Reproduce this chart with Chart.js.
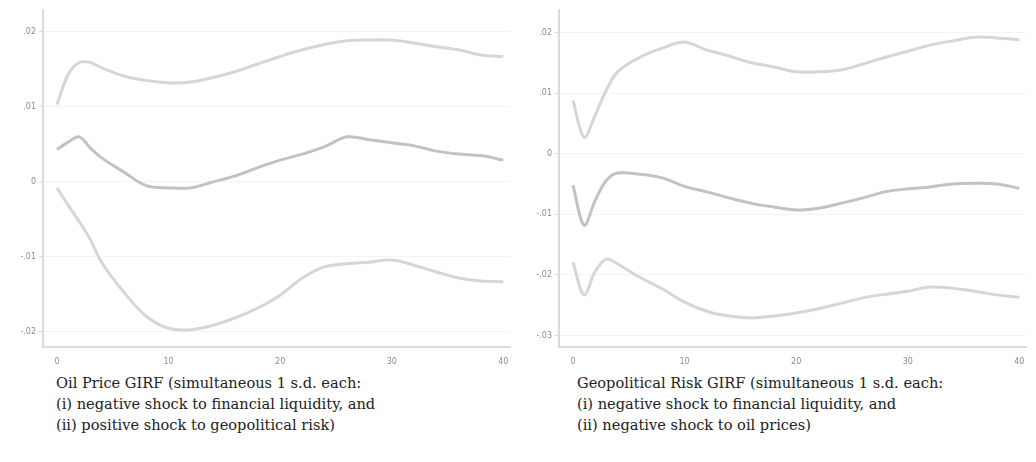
<!DOCTYPE html>
<html>
<head>
<meta charset="utf-8">
<script src="https://cdn.jsdelivr.net/npm/chart.js@4.4.1/dist/chart.umd.min.js"></script>
<style>
  html, body { margin: 0; padding: 0; background: #fff; }
  body { width: 1036px; height: 462px; position: relative; overflow: hidden; }
  .panel { position: absolute; top: 0; }
  .caption {
    position: absolute; top: 372px;
    font-family: "DejaVu Serif", serif; font-size: 14.6px; line-height: 21px; color: #222;
  }
</style>
</head>
<body>
<div class="panel" style="left:0"><canvas id="chart-oil" width="516" height="365"></canvas></div>
<div class="panel" style="left:516px"><canvas id="chart-gpr" width="520" height="365"></canvas></div>
<div class="caption" style="left:56px">Oil Price GIRF (simultaneous 1 s.d. each:<br>(i) negative shock to financial liquidity, and<br>(ii) positive shock to geopolitical risk)</div>
<div class="caption" style="left:577px">Geopolitical Risk GIRF (simultaneous 1 s.d. each:<br>(i) negative shock to financial liquidity, and<br>(ii) negative shock to oil prices)</div>
<script>
(function () {
  "use strict";

  // ── Data ───────────────────────────────────────

  var horizons = [0, 1, 2, 3, 4, 6, 8, 10, 12, 14, 16, 18, 20, 22, 24, 26, 28, 30, 32, 34, 36, 38, 40];
  var xTicks = [0, 10, 20, 30, 40];

  var oilUpper = [0.0103, 0.0143, 0.0159, 0.0159, 0.0152, 0.0141, 0.0135, 0.0132, 0.0133, 0.0139, 0.0147, 0.0157,
    0.0167, 0.0176, 0.0183, 0.0188, 0.0189, 0.0189, 0.0185, 0.0180, 0.0176, 0.0169, 0.0167];
  var oilMedian = [0.0043, 0.0053, 0.0060, 0.0045, 0.0032, 0.0013, -0.0005, -0.0008, -0.0008, 0.0000, 0.0008, 0.0019,
    0.0029, 0.0037, 0.0047, 0.0060, 0.0056, 0.0052, 0.0048, 0.0041, 0.0037, 0.0035, 0.0029];
  var oilLower = [-0.0008, -0.0031, -0.0053, -0.0077, -0.0107, -0.0147, -0.0179, -0.0195, -0.0197, -0.0191, -0.0181, -0.0168,
    -0.0151, -0.0128, -0.0113, -0.0109, -0.0107, -0.0104, -0.0111, -0.0120, -0.0128, -0.0132, -0.0133];
  var oilYTicks = [-0.02, -0.01, 0, 0.01, 0.02];

  var gprUpper = [0.0088, 0.0027, 0.0064, 0.0105, 0.0135, 0.0159, 0.0174, 0.0184, 0.0171, 0.0161, 0.0150, 0.0143,
    0.0135, 0.0135, 0.0138, 0.0148, 0.0159, 0.0169, 0.0179, 0.0186, 0.0192, 0.0191, 0.0188];
  var gprMedian = [-0.0052, -0.0118, -0.0077, -0.0044, -0.0032, -0.0034, -0.0040, -0.0054, -0.0063, -0.0073, -0.0082, -0.0088,
    -0.0093, -0.0090, -0.0082, -0.0073, -0.0063, -0.0058, -0.0055, -0.0050, -0.0049, -0.0050, -0.0057];
  var gprLower = [-0.0179, -0.0233, -0.0194, -0.0174, -0.0182, -0.0204, -0.0223, -0.0245, -0.0260, -0.0268, -0.0271, -0.0268,
    -0.0263, -0.0256, -0.0247, -0.0238, -0.0232, -0.0227, -0.0220, -0.0222, -0.0227, -0.0233, -0.0237];
  var gprYTicks = [-0.03, -0.02, -0.01, 0, 0.01, 0.02];

  // ── Helpers ────────────────────────────────────

  function fmt(v) {
    if (Math.abs(v) < 1e-9) return "0";
    var s = Math.abs(v).toFixed(2).replace(/^0/, "");
    return (v < 0 ? "-" : "") + s;
  }

  function pts(ys) {
    return horizons.map(function (h, i) { return { x: h, y: ys[i] }; });
  }

  function line(ys, color, width) {
    return { data: pts(ys), borderColor: color, borderWidth: width, pointRadius: 0, tension: 0.35, fill: false };
  }

  function makeChart(id, upper, median, lower, yTicks, yMin, yMax, padRight) {
    return new Chart(document.getElementById(id), {
      type: "line",
      data: {
        datasets: [
          line(upper, "#d6d6d6", 3),
          line(median, "#c2c2c2", 3),
          line(lower, "#d6d6d6", 3)
        ]
      },
      options: {
        responsive: false, animation: false,
        layout: { padding: { top: 10, right: padRight, left: 0, bottom: 0 } },
        plugins: { legend: { display: false }, tooltip: { enabled: false } },
        scales: {
          x: {
            type: "linear", min: -1.25, max: 40.6,
            afterBuildTicks: function (ax) { ax.ticks = xTicks.map(function (v) { return { value: v }; }); },
            afterFit: function (ax) { ax.height = 18; },
            border: { color: "#dadada", width: 2 },
            grid: { display: false, drawTicks: true },
            ticks: { color: "#8c8c8c", font: { family: "DejaVu Sans", size: 8 }, padding: 2, maxRotation: 0 }
          },
          y: {
            min: yMin, max: yMax,
            afterBuildTicks: function (ax) { ax.ticks = yTicks.map(function (v) { return { value: v }; }); },
            afterFit: function (ax) { ax.width = 43; },
            border: { color: "#dadada", width: 2 },
            grid: { color: "#f4f4f4", tickColor: "#dadada", tickLength: 4 },
            ticks: { color: "#8c8c8c", font: { family: "DejaVu Sans", size: 8 }, padding: 3, callback: function (v) { return fmt(v); } }
          }
        }
      }
    });
  }

  makeChart("chart-oil", oilUpper, oilMedian, oilLower, oilYTicks, -0.022, 0.0229, 6);
  makeChart("chart-gpr", gprUpper, gprMedian, gprLower, gprYTicks, -0.0319, 0.0237, 10);
})();
</script>
</body>
</html>
